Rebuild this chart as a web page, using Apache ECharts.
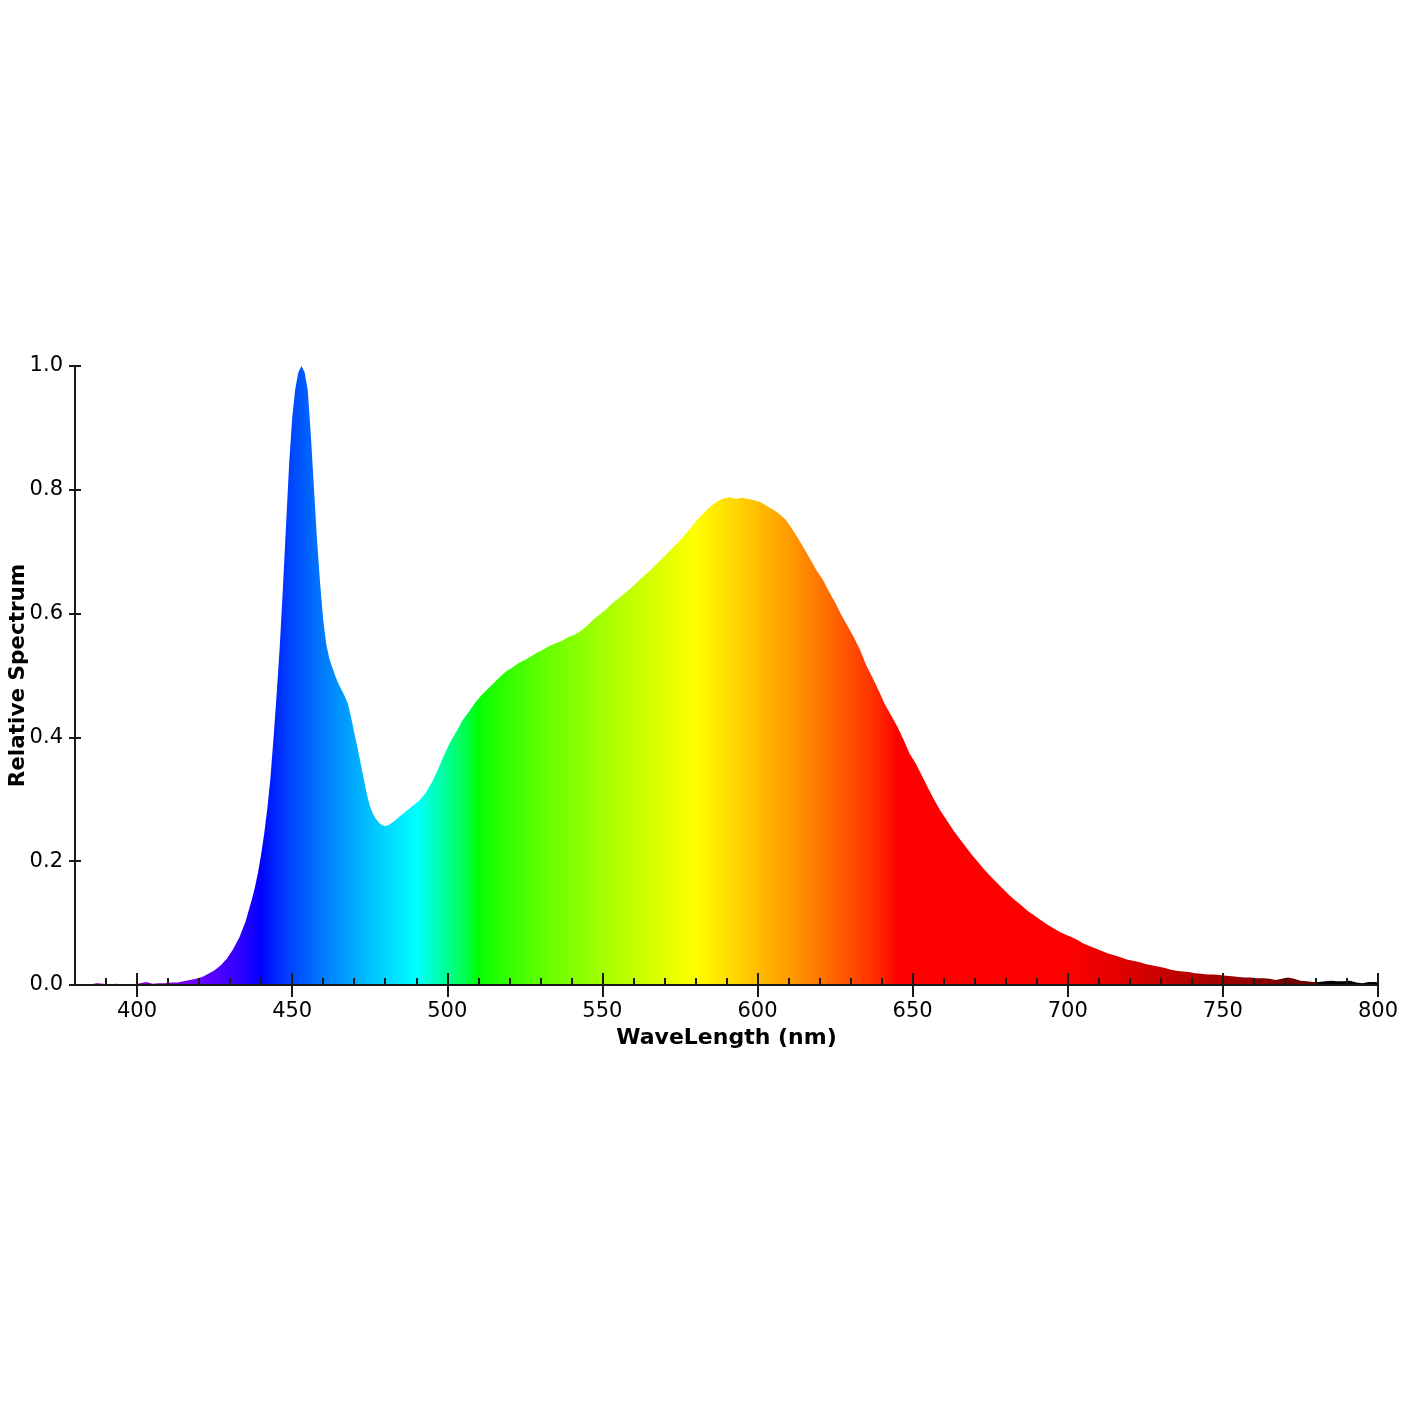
<!DOCTYPE html>
<html>
<head>
<meta charset="utf-8">
<script src="https://cdn.jsdelivr.net/npm/echarts@6/dist/echarts.min.js"></script>
<style>
html,body{margin:0;padding:0;background:#fff;}
#chart{width:1420px;height:1420px;}
</style>
</head>
<body>
<div id="chart"></div>
<script>
// ---- data ----
const wavelengths = [385,387,389,391,393,395,397,399,401,403,405,407,409,411,413,415,417,419,421,423,425,427,429,431,433,435,437,438,439,440,441,442,443,444,445,446,447,448,449,450,451,452,453,454,455,456,457,458,459,460,461,462,463,464,465,466,467,468,469,470,471,472,473,474,475,476,477,478,479,480,481,483,485,487,489,491,493,495,497,499,501,503,505,507,509,511,513,515,517,519,521,523,525,527,529,531,533,535,537,539,541,543,545,547,549,551,553,555,557,559,561,563,565,567,569,571,573,575,577,579,581,583,585,587,589,591,593,595,597,599,601,603,605,607,609,611,613,615,617,619,621,623,625,627,629,631,633,635,637,639,641,643,645,647,649,651,653,655,657,659,661,663,665,667,669,671,673,675,677,679,681,683,685,687,689,691,693,695,697,699,701,703,705,707,709,711,713,715,717,719,721,723,725,727,729,731,733,735,737,739,741,743,745,747,749,751,753,755,757,759,761,763,765,767,769,771,773,775,777,779,781,783,785,787,789,791,793,795,797,799,800];
const spectrum = [0.001,0.003,0.002,0.001,0.002,0.001,0.001,0.001,0.003,0.005,0.002,0.003,0.003,0.004,0.004,0.006,0.008,0.010,0.013,0.018,0.024,0.032,0.043,0.058,0.077,0.103,0.138,0.158,0.182,0.211,0.245,0.285,0.335,0.400,0.470,0.547,0.640,0.740,0.840,0.915,0.963,0.990,1.000,0.990,0.962,0.890,0.805,0.720,0.650,0.590,0.550,0.527,0.512,0.498,0.486,0.476,0.466,0.454,0.432,0.408,0.385,0.360,0.335,0.310,0.290,0.277,0.268,0.262,0.258,0.257,0.258,0.265,0.274,0.282,0.290,0.298,0.310,0.327,0.348,0.372,0.393,0.410,0.428,0.442,0.456,0.468,0.478,0.488,0.498,0.507,0.513,0.520,0.525,0.531,0.537,0.542,0.548,0.552,0.556,0.562,0.566,0.572,0.580,0.590,0.598,0.606,0.616,0.624,0.632,0.640,0.650,0.659,0.668,0.678,0.688,0.698,0.708,0.718,0.730,0.742,0.754,0.764,0.774,0.781,0.786,0.788,0.785,0.787,0.785,0.783,0.780,0.774,0.768,0.761,0.752,0.738,0.722,0.705,0.688,0.670,0.655,0.636,0.618,0.598,0.580,0.562,0.542,0.517,0.497,0.476,0.454,0.436,0.418,0.397,0.374,0.358,0.338,0.318,0.299,0.281,0.266,0.251,0.237,0.224,0.211,0.199,0.187,0.176,0.166,0.156,0.146,0.137,0.129,0.120,0.113,0.106,0.099,0.093,0.087,0.082,0.078,0.073,0.067,0.063,0.059,0.055,0.051,0.048,0.045,0.041,0.039,0.037,0.034,0.032,0.030,0.028,0.025,0.023,0.022,0.021,0.019,0.018,0.017,0.017,0.016,0.015,0.014,0.013,0.012,0.012,0.011,0.011,0.010,0.008,0.010,0.012,0.010,0.007,0.006,0.005,0.005,0.006,0.007,0.006,0.006,0.007,0.004,0.003,0.005,0.005,0.004];
const majorTicks = [400,450,500,550,600,650,700,750,800];
const minorTicks = [390,410,420,430,440,460,470,480,490,510,520,530,540,560,570,580,590,610,620,630,640,660,670,680,690,710,720,730,740,760,770,780,790];
const xMin = 380, xMax = 800;

// wavelength -> visible colour (for the fill gradient)
function specColor(w){
  let r=0,g=0,b=0;
  if(w<440){r=-(w-440)/60;g=0;b=1;}
  else if(w<490){r=0;g=(w-440)/50;b=1;}
  else if(w<510){r=0;g=1;b=-(w-510)/20;}
  else if(w<580){r=(w-510)/70;g=1;b=0;}
  else if(w<645){r=1;g=-(w-645)/65;b=0;}
  else if(w<=780){r=1;g=0;b=0;}
  let f;
  if(w<420) f=0.3+0.7*(w-380)/40;
  else if(w<=700) f=1;
  else if(w<=780) f=0.3+0.7*(780-w)/80;
  else f=0;
  const c=v=>Math.round(255*Math.pow(Math.max(0,v*f),0.8));
  return 'rgb('+c(r)+','+c(g)+','+c(b)+')';
}

const chart = echarts.init(document.getElementById('chart'));
const data = wavelengths.map((w,i)=>[w,spectrum[i]]);
const font = 'DejaVu Sans';
const axisCol = '#1a1a1a';

const option = {
  animation:false,
  backgroundColor:'#fff',
  grid:{left:75,right:42,top:366,bottom:435,containLabel:false,outerBoundsMode:'none'},
  xAxis:[
    {type:'value',min:xMin,max:xMax,position:'bottom',z:5,
     name:'WaveLength (nm)',nameLocation:'middle',nameGap:42,nameMoveOverlap:false,
     nameTextStyle:{fontFamily:font,fontWeight:'bold',fontSize:22,color:'#000'},
     axisLine:{show:true,onZero:false,lineStyle:{color:axisCol,width:2}},
     axisTick:{show:true,inside:true,length:12,customValues:majorTicks,lineStyle:{color:axisCol,width:2}},
     axisLabel:{show:true,customValues:majorTicks,margin:16,fontFamily:font,fontSize:21,color:'#000'},
     splitLine:{show:false}},
    {type:'value',min:xMin,max:xMax,position:'bottom',z:5,
     axisLine:{show:false},
     axisTick:{show:true,inside:false,length:12,customValues:majorTicks,lineStyle:{color:axisCol,width:2}},
     axisLabel:{show:false},splitLine:{show:false}},
    {type:'value',min:xMin,max:xMax,position:'bottom',z:5,
     axisLine:{show:false},
     axisTick:{show:true,inside:true,length:7,customValues:minorTicks,lineStyle:{color:axisCol,width:2}},
     axisLabel:{show:false},splitLine:{show:false}}
  ],
  yAxis:[
    {type:'value',min:0,max:1,interval:0.2,position:'left',z:5,
     name:'Relative Spectrum',nameLocation:'middle',nameGap:46,nameRotate:90,nameMoveOverlap:false,
     nameTextStyle:{fontFamily:font,fontWeight:'bold',fontSize:21.5,color:'#000'},
     axisLine:{show:true,lineStyle:{color:axisCol,width:2}},
     axisTick:{show:true,inside:true,length:6,lineStyle:{color:axisCol,width:2}},
     axisLabel:{show:true,margin:12,fontFamily:font,fontSize:21,color:'#000',formatter:v=>v.toFixed(1)},
     splitLine:{show:false}},
    {type:'value',min:0,max:1,interval:0.2,position:'left',z:5,
     axisLine:{show:false},
     axisTick:{show:true,inside:false,length:6,lineStyle:{color:axisCol,width:2}},
     axisLabel:{show:false},splitLine:{show:false}}
  ],
  series:[{
    type:'line',xAxisIndex:0,yAxisIndex:0,data:data,
    showSymbol:false,smooth:false,
    lineStyle:{width:0},
    areaStyle:{color:'#0050ff',opacity:1},
    z:1
  }]
};
chart.setOption(option);

// build global gradient using pixel positions from the axis
const p0 = chart.convertToPixel({xAxisIndex:0},xMin);
const p1 = chart.convertToPixel({xAxisIndex:0},xMax);
const stops=[];
for(let w=xMin; w<=xMax; w+=1){
  stops.push({offset:(w-xMin)/(xMax-xMin),color:specColor(w)});
}
chart.setOption({series:[{
  areaStyle:{opacity:1,color:{type:'linear',x:p0,y:0,x2:p1,y2:0,global:true,colorStops:stops}}
}]});
</script>
</body>
</html>
